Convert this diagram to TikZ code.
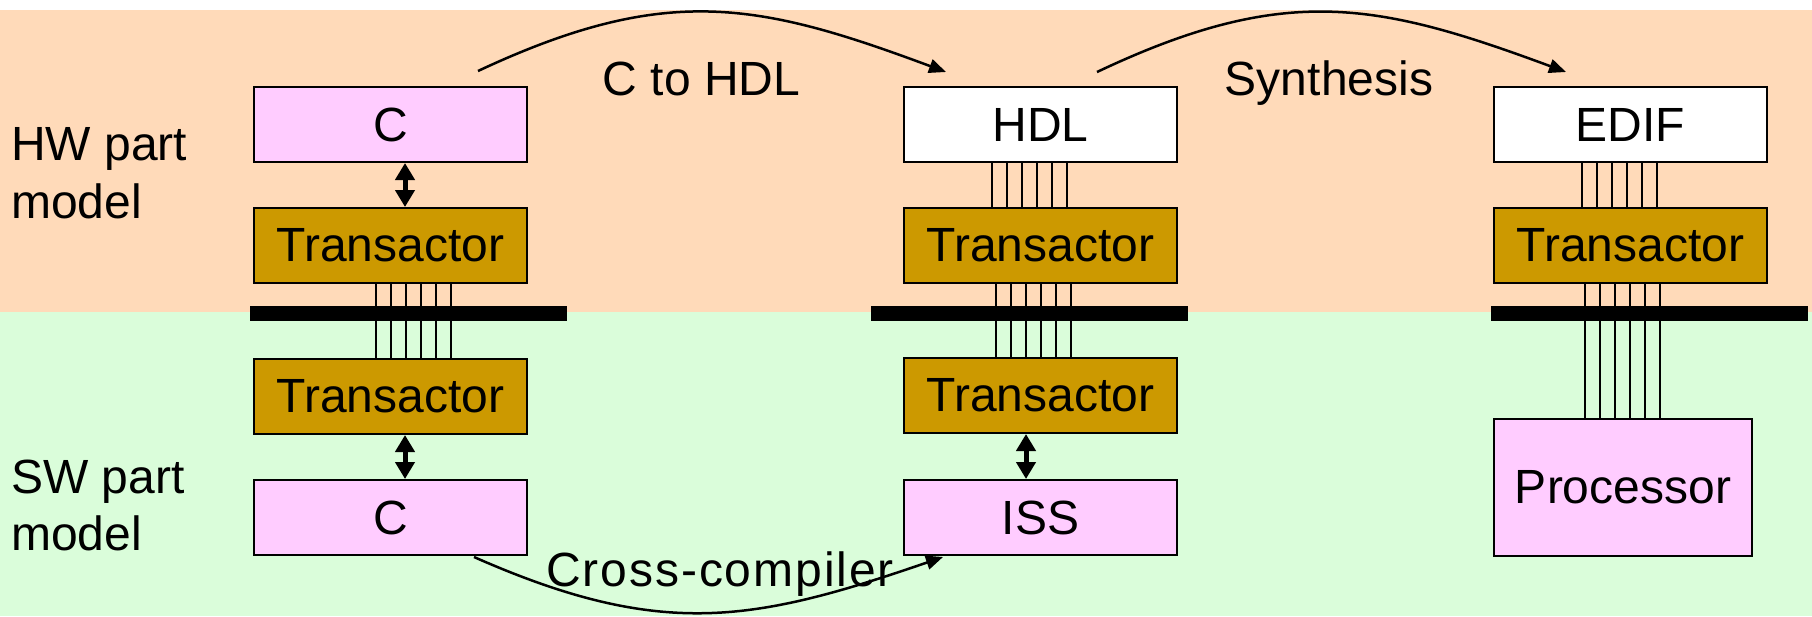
\documentclass[tikz,border=0pt]{standalone}
\usepackage{fontspec}
\setmainfont{Liberation Sans}
\usetikzlibrary{arrows.meta}
\definecolor{peach}{HTML}{FFDAB9}
\definecolor{mint}{HTML}{DAFDDA}
\definecolor{pinkbox}{HTML}{FFCCFF}
\definecolor{gold}{HTML}{CC9900}
\begin{document}
\begin{tikzpicture}[x=1pt,y=-1pt,
  box/.style={draw=black,line width=2pt,minimum width=273pt,minimum height=75pt,inner sep=0pt,font=\fontsize{48}{58}\selectfont},
  busbar/.style={fill=black,minimum width=317pt,minimum height=15pt,inner sep=0pt},
  wire/.style={line width=1.5pt},
  dbl/.style={line width=5pt,{Triangle[length=17pt,width=19pt]}-{Triangle[length=17pt,width=19pt]}},
  flow/.style={line width=2.5pt,-{Triangle[length=17pt,width=14pt]}},
  lbl/.style={inner sep=0pt,font=\fontsize{48}{58}\selectfont}]
\useasboundingbox (0,0) rectangle (1812,616);
\fill[white] (0,0) rectangle (1812,10);
\fill[peach] (0,10) rectangle (1812,312);
\fill[mint] (0,312) rectangle (1812,616);

% bus bars
\node[busbar] (bar1) at (408.5,313.5) {};
\node[busbar] (bar2) at (1029.5,313.5) {};
\node[busbar] (bar3) at (1649.5,313.5) {};

% boxes
\node[box,fill=pinkbox] (hwc) at (390.5,124.5) {C};
\node[box,fill=gold] (hwt1) at (390.5,245.5) {Transactor};
\node[box,fill=gold] (swt1) at (390.5,396.5) {Transactor};
\node[box,fill=pinkbox] (swc) at (390.5,517.5) {C};
\node[box,fill=white] (hdl) at (1040.5,124.5) {HDL};
\node[box,fill=gold] (hwt2) at (1040.5,245.5) {Transactor};
\node[box,fill=gold] (swt2) at (1040.5,395.5) {Transactor};
\node[box,fill=pinkbox] (iss) at (1040.5,517.5) {ISS};
\node[box,fill=white] (edif) at (1630.5,124.5) {EDIF};
\node[box,fill=gold] (hwt3) at (1630.5,245.5) {Transactor};
\node[box,fill=pinkbox,minimum width=258pt,minimum height=137pt] (proc) at (1623,487.5) {Processor};

% wires
\foreach \i in {0,...,5} {
  \draw[wire] ([xshift={(\i*15-14.5)*1pt}]hwt1.south) -- ([xshift={(\i*15-14.5)*1pt}]swt1.north);
  \draw[wire] ([xshift={(\i*15-48.5)*1pt}]hdl.south) -- ([xshift={(\i*15-48.5)*1pt}]hwt2.north);
  \draw[wire] ([xshift={(\i*15-44.5)*1pt}]hwt2.south) -- ([xshift={(\i*15-44.5)*1pt}]swt2.north);
  \draw[wire] ([xshift={(\i*15-48.5)*1pt}]edif.south) -- ([xshift={(\i*15-48.5)*1pt}]hwt3.north);
  \draw[wire] ([xshift={(\i*15-45.5)*1pt}]hwt3.south) -- ([xshift={(\i*15-45.5)*1pt}]hwt3.south |- proc.north);
}

% double arrows
\draw[dbl] ([xshift=14.5pt]hwc.south) -- ([xshift=14.5pt]hwt1.north);
\draw[dbl] ([xshift=14.5pt]swt1.south) -- ([xshift=14.5pt]swc.north);
\draw[dbl] ([xshift=-14.5pt]swt2.south) -- ([xshift=-14.5pt]iss.north);

% labels
\node[lbl,anchor=base west] (hw1) at (11,160) {HW part};
\node[lbl,anchor=base west] (hw2) at (11,218) {model};
\node[lbl,anchor=base west] (sw1) at (11,493) {SW part};
\node[lbl,anchor=base west] (sw2) at (11,550) {model};
\node[lbl,anchor=base] (l1) at (701.5,95) {C to HDL};
\node[lbl,anchor=base] (l2) at (1329,95) {Synthesis};
\node[lbl,anchor=base] (l3) at (720,586) {\addfontfeature{LetterSpace=4}Cross-compiler};

% flow curves
\coordinate (a1) at (478,71);
\coordinate (a2) at (946,72);
\coordinate (b1) at (1097,72);
\coordinate (b2) at (1566,72);
\coordinate (c1) at (474,557);
\coordinate (c2) at (943,557);
\draw[flow] (a1) .. controls (666,-17) and (758,2) .. (a2);
\draw[flow] (b1) .. controls (1285,-17) and (1377,2) .. (b2);
\draw[flow] (c1) .. controls (662,640) and (754,622) .. (c2);
\end{tikzpicture}
\end{document}
